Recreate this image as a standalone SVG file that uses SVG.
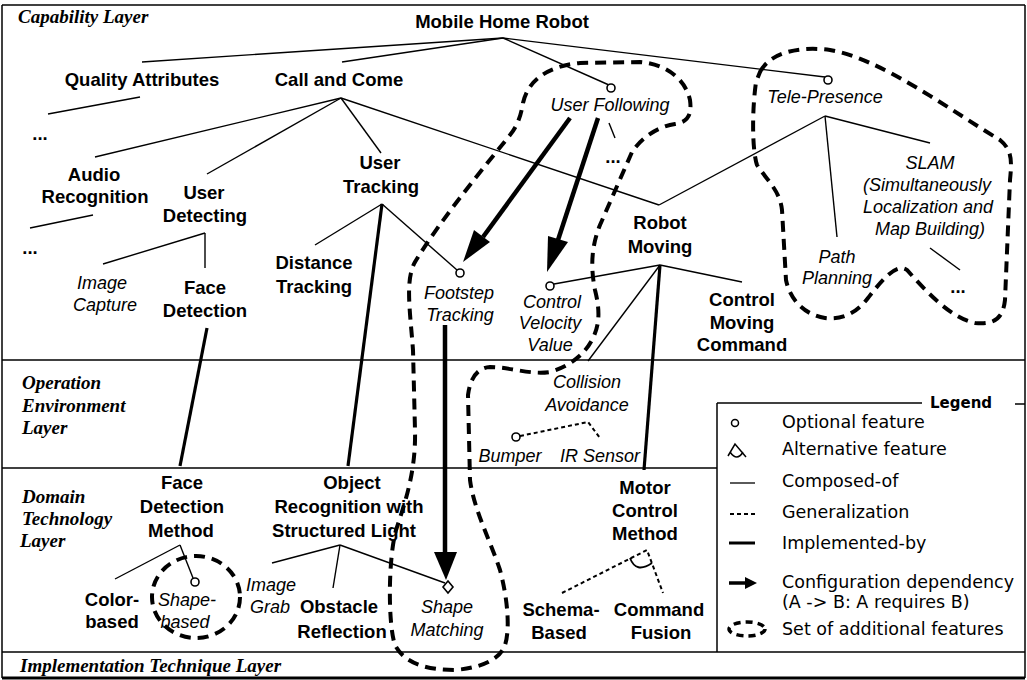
<svg xmlns="http://www.w3.org/2000/svg" width="1027" height="680" viewBox="0 0 1027 680">
<defs>
<style>
.b{font-family:"Liberation Sans",Arial,sans-serif;font-weight:bold;font-size:18.5px;text-anchor:middle;fill:#000}
.i{font-family:"Liberation Sans",Arial,sans-serif;font-style:italic;font-size:18px;text-anchor:middle;fill:#000}
.L{font-family:"Liberation Serif","Times New Roman",serif;font-weight:bold;font-style:italic;font-size:19px;fill:#000}
.g{font-family:"DejaVu Sans",sans-serif;font-size:17.5px;fill:#000}
.c{stroke:#000;stroke-width:1.4;fill:none}
.imp{stroke:#000;stroke-width:3.2;fill:none}
.gen{stroke:#000;stroke-width:2;stroke-dasharray:4 3;fill:none}
.set{stroke:#000;stroke-width:4;stroke-dasharray:11 7;fill:none}
.opt{stroke:#000;stroke-width:1.6;fill:#fff}
.dep{stroke:#000;stroke-width:4.5;fill:none}
.frame{stroke:#000;stroke-width:1.5;fill:none}
</style>
</defs>
<rect width="1027" height="680" fill="#fff"/>

<g id="frame">
<line class="frame" x1="2" y1="5" x2="1025" y2="5"/>
<line class="frame" x1="2" y1="5" x2="2" y2="678"/>
<line class="frame" x1="1025" y1="5" x2="1025" y2="678"/>
<line class="frame" x1="2" y1="360" x2="1025" y2="360"/>
<line class="frame" x1="2" y1="468" x2="717" y2="468"/>
<line class="frame" x1="2" y1="652" x2="1025" y2="652"/>
<line stroke="#000" stroke-width="3" x1="2" y1="678" x2="1025" y2="678"/>
</g>

<g id="layers">
<text class="L" x="18" y="23">Capability Layer</text>
<text class="L" x="22" y="389">Operation</text>
<text class="L" x="22" y="412">Environment</text>
<text class="L" x="22" y="434">Layer</text>
<text class="L" x="22" y="503">Domain</text>
<text class="L" x="22" y="525">Technology</text>
<text class="L" x="20" y="547">Layer</text>
<text class="L" x="20" y="672">Implementation Technique Layer</text>
</g>

<g id="feature-sets">
<path class="set" d="M760,72 C770,52 800,46 830,50 C880,58 950,110 1000,140 C1012,150 1012,160 1010,180 L1005,300 C1003,318 995,325 975,323 C950,318 925,290 907,270 C897,262 882,280 868,298 C855,315 840,320 825,318 C805,315 790,300 786,280 L782,210 C780,190 765,178 757,165 C752,150 752,110 756,82 Z"/>
<path class="set" d="M523,103 C528,80 548,66 580,63 L640,62 C665,64 685,78 690,100 C692,115 688,122 675,124 C655,127 640,140 632,152 L600,225 C592,245 590,265 595,290 C600,310 600,325 592,340 C584,355 570,366 550,372 C530,375 510,367 490,367 C476,368 470,380 468,395 L470,480 C474,510 490,540 500,570 C508,600 510,630 505,645 C500,660 480,668 455,670 C430,670 405,665 395,645 C388,625 388,560 396,530 C406,500 416,470 415,430 L413,350 C410,310 405,280 415,262 C440,220 490,160 510,135 C518,125 521,115 523,103 Z"/>
<ellipse class="set" cx="196" cy="597" rx="44" ry="41"/>
</g>

<g id="connectors">
<!-- composed-of -->
<line class="c" x1="503" y1="38" x2="142" y2="62"/>
<line class="c" x1="503" y1="38" x2="342" y2="62"/>
<line class="c" x1="503" y1="38" x2="609" y2="85"/>
<line class="c" x1="503" y1="38" x2="825" y2="77"/>
<line class="c" x1="140" y1="97" x2="48" y2="114"/>
<line class="c" x1="341" y1="98" x2="95" y2="157"/>
<line class="c" x1="341" y1="98" x2="207" y2="174"/>
<line class="c" x1="341" y1="98" x2="381" y2="153"/>
<line class="c" x1="341" y1="98" x2="659" y2="205"/>
<line class="c" x1="825" y1="116" x2="659" y2="205"/>
<line class="c" x1="825" y1="116" x2="837" y2="237"/>
<line class="c" x1="825" y1="116" x2="930" y2="143"/>
<line class="c" x1="930" y1="248" x2="960" y2="270"/>
<line class="c" x1="609" y1="123" x2="615" y2="138"/>
<line class="c" x1="93" y1="215" x2="30" y2="228"/>
<line class="c" x1="205" y1="233" x2="103" y2="264"/>
<line class="c" x1="205" y1="233" x2="205" y2="268"/>
<line class="c" x1="382" y1="204" x2="315" y2="245"/>
<line class="c" x1="382" y1="204" x2="457" y2="270"/>
<line class="c" x1="660" y1="265" x2="554" y2="284"/>
<line class="c" x1="660" y1="265" x2="742" y2="282"/>
<line class="c" x1="660" y1="265" x2="588" y2="361"/>
<line class="c" x1="180" y1="545" x2="115" y2="579"/>
<line class="c" x1="180" y1="545" x2="193" y2="578"/>
<line class="c" x1="340" y1="545" x2="272" y2="563"/>
<line class="c" x1="340" y1="545" x2="333" y2="588"/>
<line class="c" x1="340" y1="545" x2="445" y2="583"/>
<!-- generalization -->
<polyline class="gen" points="520,436 588,422 600,438"/>
<polyline class="gen" points="562,593 647,550 663,593"/>
<path d="M630,558 Q636,574 652,563" stroke="#000" stroke-width="1.8" fill="none"/>
<!-- implemented-by -->
<line class="imp" x1="207" y1="328" x2="180" y2="466"/>
<line class="imp" x1="382" y1="204" x2="348" y2="466"/>
<line class="imp" x1="660" y1="265" x2="644" y2="470"/>
<!-- configuration dependency -->
<line class="dep" x1="570" y1="118" x2="483" y2="237"/>
<polygon points="463,262 490,242 474,230" fill="#000"/>
<line class="dep" x1="598" y1="118" x2="558" y2="240"/>
<polygon points="547,272 568,242 548,236" fill="#000"/>
<line class="dep" x1="445" y1="325" x2="445" y2="553"/>
<polygon points="446,580 434,552 457,552" fill="#000"/>
<!-- optional markers -->
<circle class="opt" cx="611" cy="88" r="4"/>
<circle class="opt" cx="828" cy="80" r="4"/>
<circle class="opt" cx="460" cy="273" r="4"/>
<circle class="opt" cx="550" cy="286" r="4"/>
<circle class="opt" cx="516" cy="437" r="4"/>
<circle class="opt" cx="195" cy="582" r="4"/>
<polygon class="opt" points="448,581 453,587 448,593 443,587"/>
</g>

<g id="n-mobile"><text class="b" x="502" y="28">Mobile Home Robot</text></g>
<g id="n-quality"><text class="b" x="142" y="86">Quality Attributes</text><text class="b" x="40" y="140">...</text></g>
<g id="n-callcome"><text class="b" x="339" y="86">Call and Come</text></g>
<g id="n-userfollowing"><text class="i" x="610" y="111">User Following</text><text class="b" x="613" y="163">...</text></g>
<g id="n-telepresence"><text class="i" x="825" y="103">Tele-Presence</text></g>
<g id="n-audio"><text class="b" x="94" y="181">Audio</text><text class="b" x="95" y="203">Recognition</text><text class="b" x="30" y="254">...</text></g>
<g id="n-userdetecting"><text class="b" x="204" y="199">User</text><text class="b" x="205" y="222">Detecting</text></g>
<g id="n-usertracking"><text class="b" x="380" y="169">User</text><text class="b" x="381" y="193">Tracking</text></g>
<g id="n-robotmoving"><text class="b" x="660" y="229">Robot</text><text class="b" x="660" y="253">Moving</text></g>
<g id="n-slam"><text class="i" x="930" y="169">SLAM</text><text class="i" x="927" y="191">(Simultaneously</text><text class="i" x="928" y="213">Localization and</text><text class="i" x="930" y="235">Map Building)</text><text class="b" x="958" y="293">...</text></g>
<g id="n-path"><text class="i" x="837" y="263">Path</text><text class="i" x="837" y="284">Planning</text></g>
<g id="n-imagecapture"><text class="i" x="102" y="289">Image</text><text class="i" x="105" y="311">Capture</text></g>
<g id="n-facedetection"><text class="b" x="205" y="294">Face</text><text class="b" x="205" y="317">Detection</text></g>
<g id="n-distance"><text class="b" x="314" y="269">Distance</text><text class="b" x="314" y="293">Tracking</text></g>
<g id="n-footstep"><text class="i" x="459" y="299">Footstep</text><text class="i" x="460" y="321">Tracking</text></g>
<g id="n-velocity"><text class="i" x="552" y="308">Control</text><text class="i" x="550" y="329">Velocity</text><text class="i" x="550" y="351">Value</text></g>
<g id="n-movingcommand"><text class="b" x="742" y="306">Control</text><text class="b" x="742" y="329">Moving</text><text class="b" x="742" y="351">Command</text></g>
<g id="n-collision"><text class="i" x="587" y="388">Collision</text><text class="i" x="587" y="411">Avoidance</text></g>
<g id="n-bumper"><text class="i" x="510" y="462">Bumper</text></g>
<g id="n-irsensor"><text class="i" x="600" y="462">IR Sensor</text></g>
<g id="n-facemethod"><text class="b" x="182" y="489">Face</text><text class="b" x="182" y="513">Detection</text><text class="b" x="181" y="537">Method</text></g>
<g id="n-objrec"><text class="b" x="352" y="489">Object</text><text class="b" x="349" y="513">Recognition with</text><text class="b" x="344" y="537">Structured Light</text></g>
<g id="n-motor"><text class="b" x="645" y="494">Motor</text><text class="b" x="645" y="517">Control</text><text class="b" x="645" y="540">Method</text></g>
<g id="n-colorbased"><text class="b" x="112" y="606">Color-</text><text class="b" x="112" y="628">based</text></g>
<g id="n-shapebased"><text class="i" x="187" y="606">Shape-</text><text class="i" x="185" y="628">based</text></g>
<g id="n-imagegrab"><text class="i" x="271" y="591">Image</text><text class="i" x="270" y="613">Grab</text></g>
<g id="n-obstacle"><text class="b" x="339" y="613">Obstacle</text><text class="b" x="342" y="638">Reflection</text></g>
<g id="n-shapematching"><text class="i" x="447" y="613">Shape</text><text class="i" x="447" y="636">Matching</text></g>
<g id="n-schema"><text class="b" x="561" y="616">Schema-</text><text class="b" x="559" y="639">Based</text></g>
<g id="n-fusion"><text class="b" x="659" y="616">Command</text><text class="b" x="661" y="639">Fusion</text></g>

<g id="legend">
<line class="frame" x1="717" y1="403" x2="922" y2="403"/>
<line class="frame" x1="717" y1="403" x2="717" y2="652"/>
<line class="frame" x1="1015" y1="404" x2="1025" y2="404"/>
<text x="930" y="408" style="font-family:'DejaVu Sans',sans-serif;font-weight:bold;font-size:15px">Legend</text>
<circle cx="735" cy="423" r="3.5" stroke="#000" stroke-width="1.5" fill="#fff"/>
<text class="g" x="782" y="428">Optional feature</text>
<path d="M728,456 L735,444 L746,457 M730,452 Q737,462 743,452" stroke="#000" stroke-width="1.5" fill="none"/>
<text class="g" x="782" y="455">Alternative feature</text>
<line x1="730" y1="483" x2="755" y2="483" stroke="#000" stroke-width="1.3"/>
<text class="g" x="782" y="487">Composed-of</text>
<line x1="730" y1="514" x2="755" y2="514" stroke="#000" stroke-width="2" stroke-dasharray="4 3"/>
<text class="g" x="782" y="518">Generalization</text>
<line x1="729" y1="543" x2="755" y2="543" stroke="#000" stroke-width="3"/>
<text class="g" x="782" y="549">Implemented-by</text>
<line x1="729" y1="583" x2="746" y2="583" stroke="#000" stroke-width="3.5"/>
<polygon points="757,583 745,577 745,589" fill="#000"/>
<text class="g" x="782" y="588">Configuration dependency</text>
<text class="g" x="782" y="608">(A -&gt; B: A requires B)</text>
<ellipse cx="747" cy="629" rx="18" ry="7" stroke="#000" stroke-width="3.5" stroke-dasharray="7 5" fill="none"/>
<text class="g" x="782" y="635">Set of additional features</text>
</g>
</svg>
